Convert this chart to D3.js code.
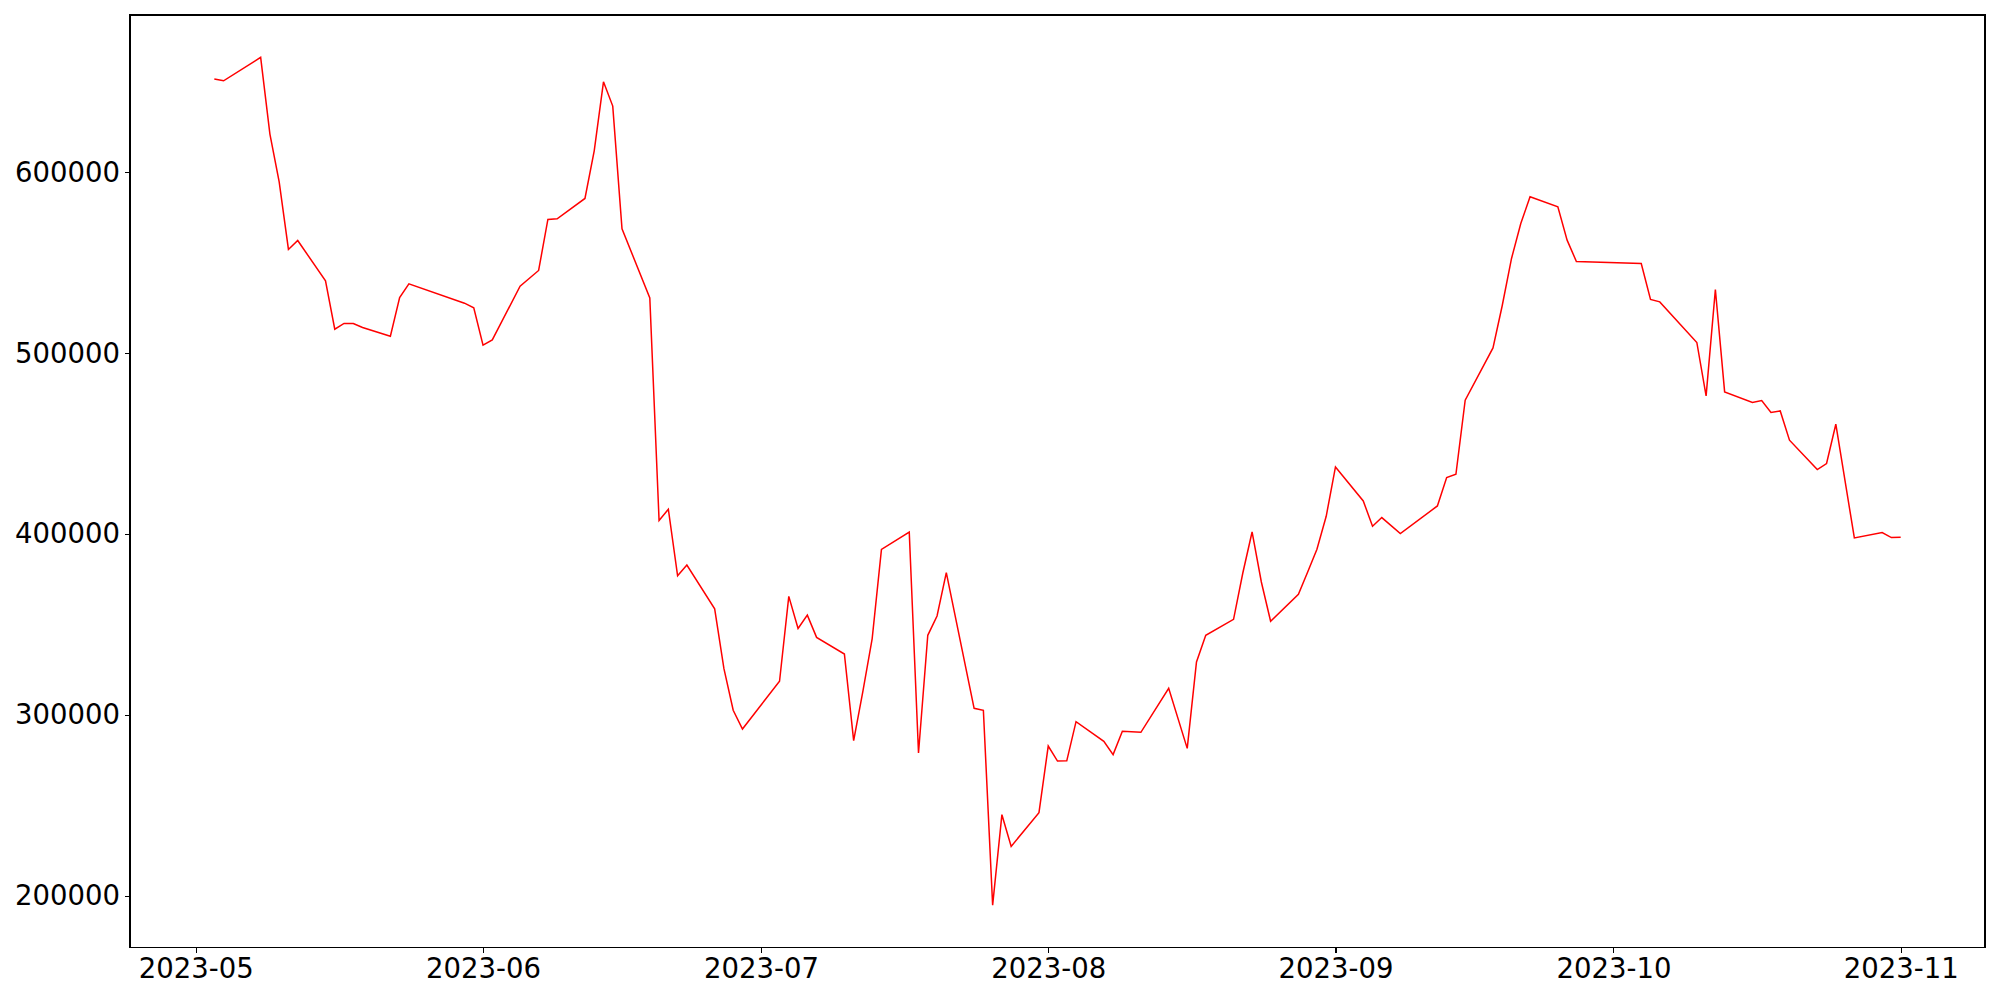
<!DOCTYPE html>
<html>
<head>
<meta charset="utf-8">
<script src="https://cdn.jsdelivr.net/npm/d3@7"></script>
<style>
  html, body { margin: 0; padding: 0; background: #fff; }
  svg { display: block; font-family: "DejaVu Sans", sans-serif; }
</style>
</head>
<body>
<div id="chart"></div>
<script>
// ── Data ──
const dates = [
  "2023-05-03", "2023-05-04", "2023-05-08", "2023-05-09", "2023-05-10", "2023-05-11", "2023-05-12",
  "2023-05-15", "2023-05-16", "2023-05-17", "2023-05-18", "2023-05-19", "2023-05-22", "2023-05-23",
  "2023-05-24", "2023-05-30", "2023-05-31", "2023-06-01", "2023-06-02", "2023-06-05", "2023-06-07",
  "2023-06-08", "2023-06-09", "2023-06-12", "2023-06-13", "2023-06-14", "2023-06-15", "2023-06-16",
  "2023-06-19", "2023-06-20", "2023-06-21", "2023-06-22", "2023-06-23", "2023-06-26", "2023-06-27",
  "2023-06-28", "2023-06-29", "2023-07-03", "2023-07-04", "2023-07-05", "2023-07-06", "2023-07-07",
  "2023-07-10", "2023-07-11", "2023-07-12", "2023-07-13", "2023-07-14", "2023-07-17", "2023-07-18",
  "2023-07-19", "2023-07-20", "2023-07-21", "2023-07-24", "2023-07-25", "2023-07-26", "2023-07-27",
  "2023-07-28", "2023-07-31", "2023-08-01", "2023-08-02", "2023-08-03", "2023-08-04", "2023-08-07",
  "2023-08-08", "2023-08-09", "2023-08-11", "2023-08-14", "2023-08-16", "2023-08-17", "2023-08-18",
  "2023-08-21", "2023-08-22", "2023-08-23", "2023-08-24", "2023-08-25", "2023-08-28", "2023-08-29",
  "2023-08-30", "2023-08-31", "2023-09-01", "2023-09-04", "2023-09-05", "2023-09-06", "2023-09-08",
  "2023-09-12", "2023-09-13", "2023-09-14", "2023-09-15", "2023-09-18", "2023-09-19", "2023-09-20",
  "2023-09-21", "2023-09-22", "2023-09-25", "2023-09-26", "2023-09-27", "2023-10-04", "2023-10-05",
  "2023-10-06", "2023-10-10", "2023-10-11", "2023-10-12", "2023-10-13", "2023-10-16", "2023-10-17",
  "2023-10-18", "2023-10-19", "2023-10-20", "2023-10-23", "2023-10-24", "2023-10-25", "2023-10-27",
  "2023-10-30", "2023-10-31", "2023-11-01"
];

const values = [
  651550, 650600, 663550, 621130, 594750, 557360, 562330,
  539990, 513270, 516430, 516430, 514210, 509400, 530810,
  538330, 527650, 525050, 504420, 507360, 537060, 545740,
  573950, 574280, 585560, 611890, 650060, 636620, 568750,
  530590, 407520, 413720, 376930, 382850, 358630, 325550,
  302600, 292200, 318640, 365540, 347790, 355200, 342860,
  333680, 285800, 313220, 342200, 391480, 401100, 278930,
  344020, 354700, 378700, 303650, 302540, 194850, 244850,
  227320, 245960, 282800, 274500, 274600, 296290, 285400,
  278040, 290930, 290380, 314710, 281520, 329260, 344020,
  352870, 378480, 401160, 373510, 351770, 366700, 379040,
  391590, 409840, 437110, 418310, 404310, 409120, 400280,
  415540, 431250, 433070, 474000, 502930, 526380, 552380,
  571740, 586450, 580920, 562500, 550720, 549610, 529700,
  528370, 505920, 476380, 535230, 478600, 472730, 473840,
  467200, 468090, 451880, 435670, 438990, 460730, 397840,
  400830, 398060, 398230
];

const xTickDates = ["2023-05-01", "2023-06-01", "2023-07-01", "2023-08-01", "2023-09-01", "2023-10-01", "2023-11-01"];
const yTickValues = [200000, 300000, 400000, 500000, 600000];

// ── Layout ──
const W = 2000,
  H = 1000;
const M = { t: 15, r: 15, b: 52.5, l: 130 };
const w = W - M.l - M.r;
const h = H - M.t - M.b;

const parse = d3.utcParse("%Y-%m-%d");
const data = dates.map((d, i) => ({ date: parse(d), value: values[i] }));

const svg = d3
  .select("#chart")
  .append("svg")
  .attr("width", W)
  .attr("height", H);

const g = svg.append("g").attr("transform", `translate(${M.l},${M.t})`);

// ── Scales (5% padding on both sides, like matplotlib) ──
function padded(ext) {
  const span = ext[1] - ext[0];
  return [ext[0] - span * 0.05, ext[1] + span * 0.05];
}

const xExt = d3.extent(data, (d) => +d.date);
const x = d3
  .scaleUtc()
  .domain(padded(xExt).map((t) => new Date(t)))
  .range([0, w]);

const y = d3
  .scaleLinear()
  .domain(padded(d3.extent(data, (d) => d.value)))
  .range([h, 0]);

// ── Line ──
const line = d3
  .line()
  .x((d) => x(d.date))
  .y((d) => y(d.value));

g.append("path")
  .datum(data)
  .attr("fill", "none")
  .attr("stroke", "#ff0000")
  .attr("stroke-width", 1.5)
  .attr("stroke-linejoin", "miter")
  .attr("d", line);

// ── Axes ──
const xAxis = d3
  .axisBottom(x)
  .tickValues(xTickDates.map(parse))
  .tickFormat(d3.utcFormat("%Y-%m"))
  .tickSizeOuter(0)
  .tickSize(5)
  .tickPadding(6);

const yAxis = d3
  .axisLeft(y)
  .tickValues(yTickValues)
  .tickFormat(d3.format("d"))
  .tickSizeOuter(0)
  .tickSize(5)
  .tickPadding(5);

const xAxisG = g.append("g").attr("transform", `translate(0,${h})`).call(xAxis);
const yAxisG = g.append("g").call(yAxis);

[xAxisG, yAxisG].forEach((ax) => {
  ax.select(".domain").remove();
  ax.selectAll(".tick line")
    .attr("stroke", "#000")
    .attr("stroke-width", 1.1)
    .attr("shape-rendering", "crispEdges");
  ax.selectAll("text")
    .attr("fill", "#000")
    .style("font-size", "27.5px")
    .style("font-family", "'DejaVu Sans', sans-serif");
});

// ── Frame ──
g.append("rect")
  .attr("x", 0)
  .attr("y", 0)
  .attr("width", w)
  .attr("height", h)
  .attr("fill", "none")
  .attr("stroke", "#000")
  .attr("stroke-width", 1.1)
  .attr("shape-rendering", "crispEdges");
</script>
</body>
</html>
